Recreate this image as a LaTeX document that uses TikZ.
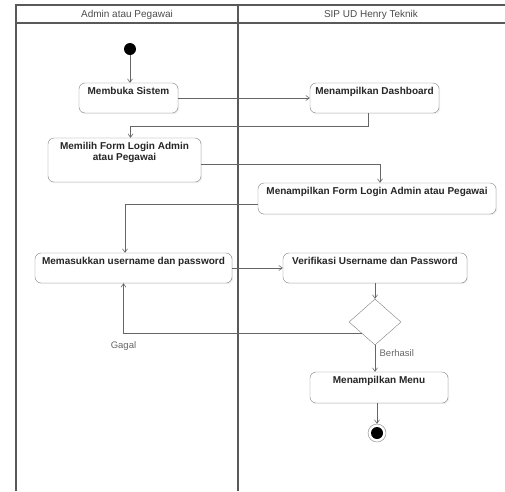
\documentclass[tikz,border=0pt]{standalone}
\usepackage{fontspec}
\setmainfont{Liberation Sans}
\usetikzlibrary{arrows.meta,shapes.geometric,shadows}

\begin{document}
\begin{tikzpicture}[x=1pt,y=-1pt,
  lane/.style={draw=black!65, line width=1.5pt},
  head/.style={font=\fontsize{10}{12}\selectfont, text=black!70},
  act/.style={draw=black!50, rounded corners=6pt, fill=white, align=center,
    font=\fontsize{10}{11.5}\selectfont\bfseries, text=black!85,
    inner xsep=4pt, inner ysep=4pt, text height=7pt, text depth=#1,
    drop shadow={opacity=0.12, shadow xshift=1.2pt, shadow yshift=-1.2pt}},
  arr/.style={draw=black!60, line width=0.6pt, -{Straight Barb[length=3.5pt,width=5pt]}},
  lbl/.style={font=\fontsize{9.5}{11}\selectfont, text=black!60}]
\useasboundingbox (0,0) rectangle (505,491);
\draw[lane] (16,491) -- (16,5) -- (505,5);
\draw[lane] (16,23) -- (505,23);
\draw[lane] (238,5) -- (238,491);
\node[head] (laneA) at (127,14.5) {Admin atau Pegawai};
\node[head] (laneB) at (371,14.5) {SIP UD Henry Teknik};

\node[circle, fill=black, minimum size=12pt, inner sep=0pt] (mulai) at (130,49) {};
\node[act=15pt, minimum width=99pt] (buka) at (128.5,98) {Membuka Sistem};
\node[act=15pt, minimum width=129pt] (dash) at (374.5,98) {Menampilkan Dashboard};
\node[act=17.5pt, text height=18.5pt, minimum width=153pt] (pilih) at (124.5,160) {Memilih Form Login Admin\\atau Pegawai};
\node[act=16pt, minimum width=238pt] (form) at (377,198.5) {Menampilkan Form Login Admin atau Pegawai};
\node[act=15pt, minimum width=197pt] (masuk) at (133.5,268) {Memasukkan username dan password};
\node[act=15pt, minimum width=184pt] (verif) at (375,268) {Verifikasi Username dan Password};
\node[diamond, draw=black!50, fill=white, aspect=1.13, minimum width=52pt, minimum height=46pt, inner sep=0pt] (cek) at (375,322) {};
\node[act=16pt, minimum width=138pt] (menu) at (379,387.5) {Menampilkan Menu};
\node[circle, draw=black!50, fill=white, minimum size=18pt, inner sep=0pt] (selesai) at (377,433) {};
\node[circle, fill=black, minimum size=12pt, inner sep=0pt] (selesai dot) at (selesai) {};

\draw[arr] (mulai) -- (mulai |- buka.north);
\draw[arr] (buka.east) -- (dash.west);
\draw[arr] ([xshift=-6pt]dash.south) -- ++(0,13) -| ([xshift=6pt]pilih.north);
\draw[arr] ([yshift=-4pt]pilih.east) -| ([xshift=3pt]form.north);
\draw[arr] ([yshift=-5.5pt]form.west) -| ([xshift=-8.5pt]masuk.north);
\draw[arr] (masuk.east) -- (verif.west);
\draw[arr] (verif.south) -- (cek.north);
\draw[arr] (cek.south west) -| ([xshift=-10pt]masuk.south) node[lbl, pos=0.5, below=4pt] {Gagal};
\draw[arr] (cek.south) -- (cek.south |- menu.north) node[lbl, pos=0.3, right=1pt] {Berhasil};
\draw[arr] (menu.south -| selesai) -- (selesai);
\end{tikzpicture}
\end{document}
